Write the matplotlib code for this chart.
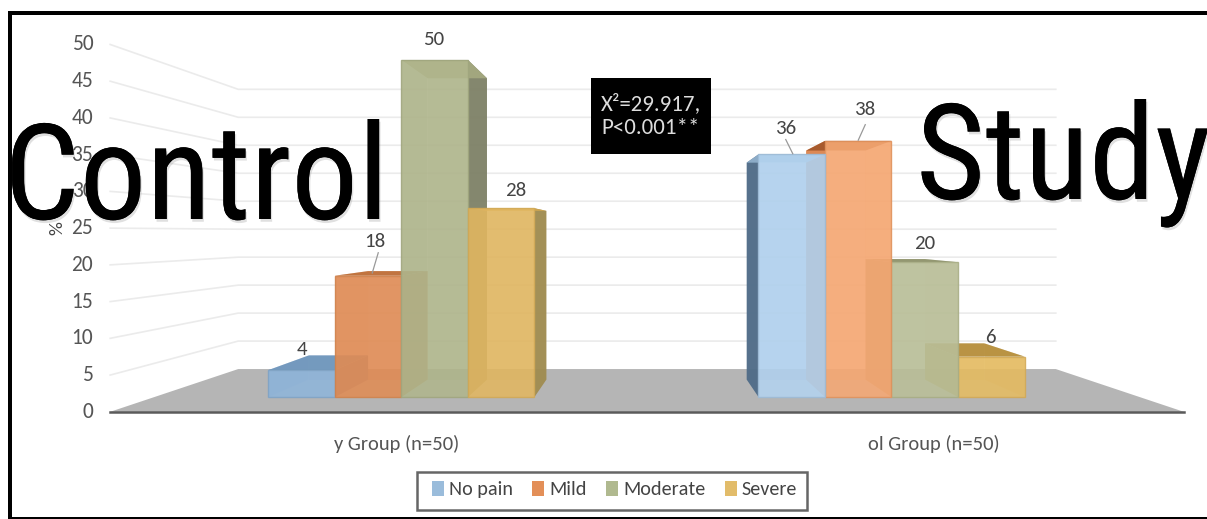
import matplotlib
matplotlib.use('Agg')
import matplotlib.pyplot as plt
import matplotlib.patheffects as pe
from matplotlib.patches import Polygon, Patch, Rectangle

plt.rcParams['font.family'] = ['Carlito', 'Lato', 'DejaVu Sans']

# values read per group
groups = ['y Group (n=50)', 'ol Group (n=50)']
pain_levels = ['No pain', 'Mild', 'Moderate', 'Severe']
control_vals = [4, 18, 50, 28]
study_vals = [36, 38, 20, 6]
yticks = [0, 5, 10, 15, 20, 25, 30, 35, 40, 45, 50]

# colours: front face, side face, top face, outline
col_left = ['#8FB5DA', '#E08C55', '#B0B68C', '#E2B761']
col_right = ['#B3D3F0', '#F6A873', '#BABF98', '#E6BC62']
side_left = ['#6E93B8', '#C4723C', '#7F8268', '#A08C50']
side_right = ['#4F6C88', '#DB854E', '#8F936C', '#B3954A']
top_left = ['#6F96BC', '#BF6F38', '#A4A87F', '#D0A650']
top_right = ['#8FAFCB', '#A5582B', '#8F936C', '#B78F3C']
edge_left = ['#7FA3C6', '#D0824C', '#A0A67E', '#D2A955']
edge_right = ['#9DBBD6', '#E0925C', '#A8AD84', '#D2A955']
legend_cols = ['#9ABCDB', '#E38F58', '#B0B98F', '#E2BC6A']

# perspective set up, vanishing point in data coords, k is depth scale
vp_x, vp_y = 0, 24.4
k_wall = 0.83
k_bar = 0.894
k_floor = 1.09
floor_w = 492.5
bar_w = 66.5
centers = [-245.5, 244.5]

def proj(x, v, k):
    return (vp_x + (x - vp_x) * k, vp_y + (v - vp_y) * k)

fig = plt.figure(figsize=(12.07, 5.19), dpi=100)
ax = fig.add_axes([0, 0, 1, 1])
ax.set_xlim(-647, 560)
ax.set_ylim(-18.1, 58.9)
ax.axis('off')

# floor
ax.add_patch(Polygon([proj(-floor_w, 0, k_floor), proj(floor_w, 0, k_floor),
                      proj(floor_w, 0, k_wall), proj(-floor_w, 0, k_wall)],
                     fc='#B5B5B5', ec='none', zorder=1))

# wall gridlines
for t in yticks[1:]:
    a = proj(-floor_w, t, k_floor)
    b = proj(-floor_w, t, k_wall)
    c = proj(floor_w, t, k_wall)
    ax.plot([a[0], b[0], c[0]], [a[1], b[1], c[1]], color='#EBEBEB', lw=1.2, zorder=1)

# axis line along floor edge
a = proj(-floor_w, 0, k_floor)
b = proj(floor_w, 0, k_floor)
ax.plot([a[0], b[0]], [a[1], b[1]], color='#5A5A5A', lw=1.8, zorder=40)

for t in yticks:
    p = proj(-floor_w, t, k_floor)
    ax.text(p[0] - 17, p[1], str(t), ha='right', va='center', fontsize=15.5, color='#555555', zorder=41)
ax.text(-590, 25, '%', rotation=90, ha='center', va='center', fontsize=14, color='#444444', zorder=41)

def draw_bar(x0, v, front, side, top, edge, z, right_side):
    x1 = x0 + bar_w
    xs = x1 if right_side else x0
    xo = x0 if right_side else x1
    # far wall and hidden side first
    ax.add_patch(Polygon([proj(x0, 0, k_bar), proj(x1, 0, k_bar), proj(x1, v, k_bar), proj(x0, v, k_bar)],
                         fc=side, ec='none', alpha=0.25, zorder=z))
    ax.add_patch(Polygon([proj(xo, 0, 1), proj(xo, 0, k_bar), proj(xo, v, k_bar), proj(xo, v, 1)],
                         fc=side, ec='none', alpha=0.3, zorder=z))
    ax.add_patch(Polygon([proj(xs, 0, 1), proj(xs, 0, k_bar), proj(xs, v, k_bar), proj(xs, v, 1)],
                         fc=side, ec='none', alpha=0.95, zorder=z + 0.1))
    ax.add_patch(Polygon([proj(x0, v, 1), proj(x1, v, 1), proj(x1, v, k_bar), proj(x0, v, k_bar)],
                         fc=top, ec='none', alpha=0.95, zorder=z + 0.1))
    ax.bar(x0, v, width=bar_w, align='edge', color=front, edgecolor=edge, linewidth=1,
           alpha=0.88, zorder=z + 0.2)

# left group paints left to right, right group right to left
for i, v in enumerate(control_vals):
    x0 = centers[0] + (i - 2) * bar_w
    draw_bar(x0, v, col_left[i], side_left[i], top_left[i], edge_left[i], 5 + i, True)
for i, v in enumerate(study_vals):
    x0 = centers[1] + (i - 2) * bar_w
    draw_bar(x0, v, col_right[i], side_right[i], top_right[i], edge_right[i], 15 - i, False)

# value labels, offset from the top of each bar
label_off = [[(0, 3.1), (7, 5.1), (-1, 3), (14, 2.7)],
             [(-6, 3.9), (6, 4.6), (0, 2.8), (-1, 2.9)]]
leader = {(0, 1): (4, 0.4, 10, 3.4), (1, 0): (1, 0.1, -6, 2.2), (1, 1): (0, 0.1, 7, 2.4)}
for g, vals in enumerate([control_vals, study_vals]):
    for i, v in enumerate(vals):
        xc = centers[g] + (i - 1.5) * bar_w
        dx, dv = label_off[g][i]
        ax.text(xc + dx, v + dv, str(v), ha='center', va='center', fontsize=15,
                color='#444444', zorder=30)
        if (g, i) in leader:
            l = leader[(g, i)]
            ax.plot([xc + l[0], xc + l[2]], [v + l[1], v + l[3]], color='#999999', lw=0.9, zorder=30)

# category labels
ax.text(centers[0] - 4.5, -6.9, groups[0], ha='center', va='center', fontsize=14.8, color='#555555')
ax.text(centers[1] + 42, -6.9, groups[1], ha='center', va='center', fontsize=14.8, color='#555555')

# chi square box
ax.add_patch(Rectangle((-56, 36), 120, 11.4, fc='black', ec='none', zorder=34))
ax.text(4, 41.7, 'X²=29.917,\nP<0.001**', ha='center', va='center', fontsize=16.5, color='#DDDDDD',
        linespacing=1.25, zorder=35)

# legend, frame drawn separately so the padding can differ per direction
ax.add_patch(Rectangle((417 - 647, -16.8), 390, 5.7, fc='white', ec='#666666', lw=1.8, zorder=35))
handles = [Patch(fc=c, ec='none') for c in legend_cols]
leg = ax.legend(handles, pain_levels, loc='center', bbox_to_anchor=(614.5 / 1207, 1 - 489.5 / 519),
                ncols=4, fontsize=14.5, frameon=False,
                handlelength=0.6, handleheight=0.75, handletextpad=0.25, columnspacing=0.95,
                labelcolor='#444444', bbox_transform=fig.transFigure)
leg.set_zorder(36)

# big group captions on top of everything
cap_font = ['Roboto Condensed', 'Roboto']
shadow = [pe.withSimplePatchShadow(offset=(1, -2), shadow_rgbFace='#999999', alpha=0.3), pe.Normal()]
ax.text(4 / 1207, 1 - 219 / 519, 'Control', transform=ax.transAxes, family=cap_font,
        fontsize=96, color='black', ha='left', va='baseline', zorder=50, path_effects=shadow)
ax.text(916 / 1207, 1 - 199 / 519, 'Study', transform=ax.transAxes, family=cap_font,
        fontsize=96, color='black', ha='left', va='baseline', zorder=50, path_effects=shadow)

# black frame around the image, white sliver stays on the left
for r in [(8, 504, 1199, 4), (8, 0, 3.5, 508), (8, 0, 1199, 2.5)]:
    ax.add_patch(Rectangle((r[0] / 1207, r[1] / 519), r[2] / 1207, r[3] / 519, transform=ax.transAxes,
                           fc='black', ec='none', zorder=60))

fig.savefig('out.png', dpi=100)
